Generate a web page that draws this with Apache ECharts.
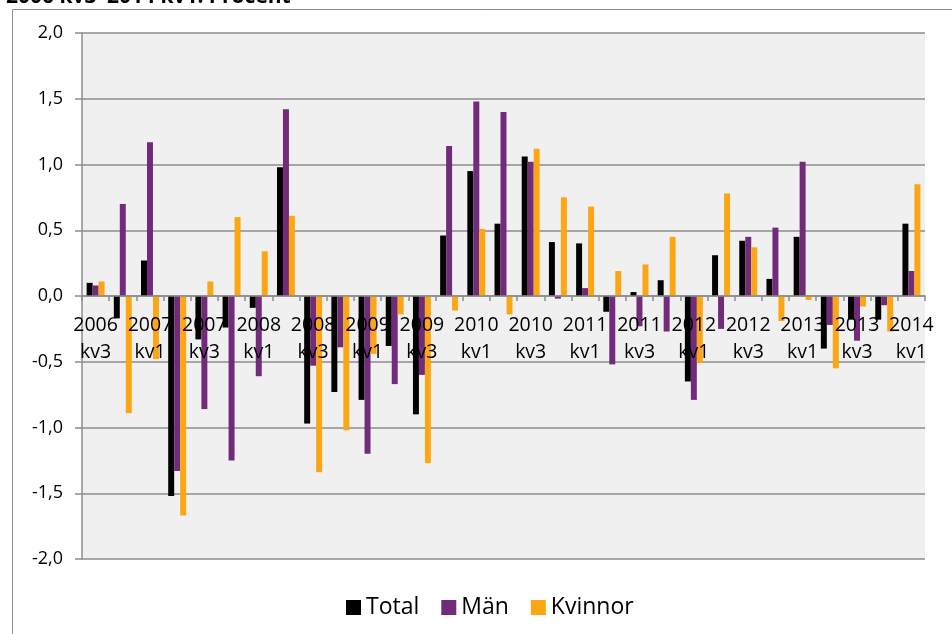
<!DOCTYPE html>
<html>
<head>
<meta charset="utf-8">
<script src="https://cdn.jsdelivr.net/npm/echarts@6/dist/echarts.min.js"></script>
<style>
  html, body { margin: 0; padding: 0; background: #fff; }
  #chart { width: 952px; height: 634px; }
</style>
</head>
<body>
<div id="chart"></div>
<script>
// --- data --------------------------------------------------------------------
const quarters = [
  "2006\nkv3", "2006\nkv4", "2007\nkv1", "2007\nkv2", "2007\nkv3", "2007\nkv4",
  "2008\nkv1", "2008\nkv2", "2008\nkv3", "2008\nkv4", "2009\nkv1", "2009\nkv2",
  "2009\nkv3", "2009\nkv4", "2010\nkv1", "2010\nkv2", "2010\nkv3", "2010\nkv4",
  "2011\nkv1", "2011\nkv2", "2011\nkv3", "2011\nkv4", "2012\nkv1", "2012\nkv2",
  "2012\nkv3", "2012\nkv4", "2013\nkv1", "2013\nkv2", "2013\nkv3", "2013\nkv4",
  "2014\nkv1",
];
const total = [
  0.10, -0.17, 0.27, -1.52, -0.33, -0.24, -0.09, 0.98, -0.97, -0.73, -0.79, -0.38,
  -0.90, 0.46, 0.95, 0.55, 1.06, 0.41, 0.40, -0.12, 0.03, 0.12, -0.65, 0.31,
  0.42, 0.13, 0.45, -0.40, -0.18, -0.18, 0.55,
];
const man = [
  0.08, 0.70, 1.17, -1.33, -0.86, -1.25, -0.61, 1.42, -0.53, -0.39, -1.20, -0.67,
  -0.60, 1.14, 1.48, 1.40, 1.02, -0.02, 0.06, -0.52, -0.23, -0.27, -0.79, -0.25,
  0.45, 0.52, 1.02, -0.22, -0.34, -0.07, 0.19,
];
const kvinnor = [
  0.11, -0.89, -0.48, -1.67, 0.11, 0.60, 0.34, 0.61, -1.34, -1.02, -0.44, -0.14,
  -1.27, -0.11, 0.51, -0.14, 1.12, 0.75, 0.68, 0.19, 0.24, 0.45, -0.51, 0.78,
  0.37, -0.19, -0.03, -0.55, -0.08, -0.27, 0.85,
];
const yTicks = { min: -2, max: 2, interval: 0.5 };

// --- look --------------------------------------------------------------------
const FONT = "'Open Sans', 'Noto Sans', sans-serif";
const GRIDLINE = "#8c8c8c";
const COLORS = { total: "#000000", man: "#722a7b", kvinnor: "#fda614" };
const GRID = { left: 82, right: 27, top: 33, bottom: 75 };
const plotH = 634 - GRID.top - GRID.bottom;

const chart = echarts.init(document.getElementById("chart"), null, { renderer: "canvas" });

const bar = (name, data, color) => ({
  name, type: "bar", data,
  barGap: "0%", barCategoryGap: "34%",
  itemStyle: { color },
  emphasis: { disabled: true },
  animation: false,
});

chart.setOption({
  animation: false,
  textStyle: { fontFamily: FONT },
  graphic: [
    // outer chart frame (runs off the right and bottom of the picture)
    { type: "rect", shape: { x: 12.5, y: 9.5, width: 1000, height: 700 },
      style: { fill: null, stroke: "#8c8c8c", lineWidth: 1 }, z: -1 },
    // title, clipped by the top edge
    { type: "text", left: 6, top: -13,
      style: { text: "2006 kv3–2014 kv1. Procent", font: "bold 21px " + FONT, fill: "#000" } },
  ],
  grid: { ...GRID, containLabel: false, show: true, backgroundColor: "#f0f0f0", borderWidth: 0 },
  legend: {
    bottom: 10, left: 341,
    itemWidth: 15, itemHeight: 15, itemGap: 22, icon: "rect",
    textStyle: { fontSize: 23, fontFamily: FONT, color: "#000", padding: [0, 0, 0, 0] },
    data: ["Total", "Män", "Kvinnor"],
  },
  xAxis: {
    type: "category", data: quarters,
    position: "bottom",
    offset: -plotH / 2, // sits on the zero line, labels included
    z: 10,              // labels are drawn over the bars, as in the reference
    axisLine: { onZero: false, lineStyle: { color: GRIDLINE, width: 1.5 } },
    axisTick: { show: true, interval: 0, length: 5, lineStyle: { color: GRIDLINE, width: 1.5 } },
    axisLabel: { interval: 1, fontSize: 19.5, color: "#000", lineHeight: 27, margin: 16, fontFamily: FONT },
    splitLine: { show: false },
  },
  yAxis: {
    type: "value", ...yTicks,
    axisLine: { show: true, lineStyle: { color: GRIDLINE, width: 1.5 } },
    axisTick: { show: true, length: 7, lineStyle: { color: GRIDLINE, width: 1.5 } },
    axisLabel: { fontSize: 18, color: "#000", margin: 19, fontFamily: FONT,
      formatter: (v) => v.toFixed(1).replace(".", ",") },
    splitLine: { show: true, lineStyle: { color: GRIDLINE, width: 1.5 } },
  },
  series: [
    bar("Total", total, COLORS.total),
    bar("Män", man, COLORS.man),
    bar("Kvinnor", kvinnor, COLORS.kvinnor),
  ],
});
</script>
</body>
</html>
